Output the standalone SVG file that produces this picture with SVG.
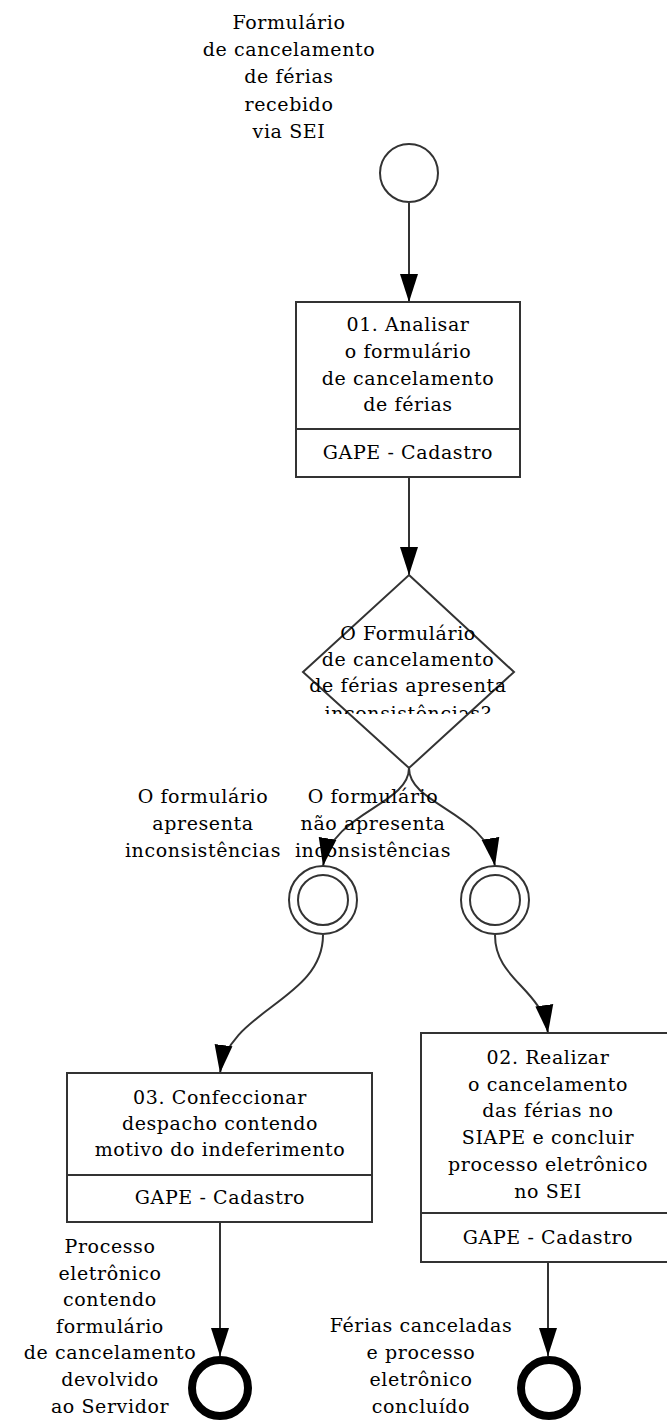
<svg xmlns="http://www.w3.org/2000/svg" width="667" height="1421" viewBox="0 0 667 1421">
<style>
text{font-family:"DejaVu Serif","Liberation Serif",serif;font-size:19px;fill:#000;text-anchor:middle;letter-spacing:0.6px}
.box{fill:#fff;stroke:#333;stroke-width:2}
.ln{fill:none;stroke:#333;stroke-width:2}
.ev{fill:#fff;stroke:#333;stroke-width:2}
.end{fill:#fff;stroke:#000;stroke-width:8}
</style>
<defs>
<marker id="arr" viewBox="0 -10 28 20" refX="28" refY="0" markerWidth="28" markerHeight="20" markerUnits="userSpaceOnUse" orient="auto">
<path d="M0,-9 L28,0 L0,9 z" fill="#000"/>
</marker>
<clipPath id="gwclip"><rect x="290" y="600" width="240" height="114"/></clipPath>
</defs>
<g id="connectors">
<path class="ln" d="M409,203 L409,302" marker-end="url(#arr)"/>
<path class="ln" d="M409,477 L409,575" marker-end="url(#arr)"/>
<path class="ln" d="M409,768 C409,805 332,812 323,866" marker-end="url(#arr)"/>
<path class="ln" d="M409,768 C409,805 486,812 495,866" marker-end="url(#arr)"/>
<path class="ln" d="M323,935 C323,1000 228,1010 220,1073" marker-end="url(#arr)"/>
<path class="ln" d="M495,935 C495,980 542,988 548,1033" marker-end="url(#arr)"/>
<path class="ln" d="M220,1222 L220,1356" marker-end="url(#arr)"/>
<path class="ln" d="M548,1262 L548,1356" marker-end="url(#arr)"/>
</g>
<g id="start">
<circle class="ev" cx="409" cy="173" r="29"/>
<text x="289" y="29">Formulário</text>
<text x="289" y="56">de cancelamento</text>
<text x="289" y="83">de férias</text>
<text x="289" y="111">recebido</text>
<text x="289" y="138">via SEI</text>
</g>
<g id="task01">
<rect class="box" x="296" y="302" width="224" height="175"/>
<line class="ln" x1="296" y1="429" x2="520" y2="429"/>
<text x="408" y="331">01. Analisar</text>
<text x="408" y="358">o formulário</text>
<text x="408" y="385">de cancelamento</text>
<text x="408" y="411">de férias</text>
<text x="408" y="459">GAPE - Cadastro</text>
</g>
<g id="gateway">
<polygon class="ev" points="409,575 514,672 409,768 303,672"/>
<g clip-path="url(#gwclip)">
<text x="408" y="640">O Formulário</text>
<text x="408" y="666">de cancelamento</text>
<text x="408" y="692">de férias apresenta</text>
<text x="408" y="720">inconsistências?</text>
</g>
</g>
<g id="label-yes">
<text x="203" y="803">O formulário</text>
<text x="203" y="830">apresenta</text>
<text x="203" y="857">inconsistências</text>
</g>
<g id="label-no">
<text x="373" y="803">O formulário</text>
<text x="373" y="830">não apresenta</text>
<text x="373" y="857">inconsistências</text>
</g>
<g id="int-left">
<circle class="ev" cx="323" cy="900" r="34"/>
<circle class="ev" cx="323" cy="900" r="25"/>
</g>
<g id="int-right">
<circle class="ev" cx="495" cy="900" r="34"/>
<circle class="ev" cx="495" cy="900" r="25"/>
</g>
<g id="task03">
<rect class="box" x="67" y="1073" width="305" height="149"/>
<line class="ln" x1="67" y1="1175" x2="372" y2="1175"/>
<text x="220" y="1104">03. Confeccionar</text>
<text x="220" y="1130">despacho contendo</text>
<text x="220" y="1156">motivo do indeferimento</text>
<text x="220" y="1204">GAPE - Cadastro</text>
</g>
<g id="task02">
<rect class="box" x="421" y="1033" width="260" height="229"/>
<line class="ln" x1="421" y1="1213" x2="681" y2="1213"/>
<text x="548" y="1064">02. Realizar</text>
<text x="548" y="1091">o cancelamento</text>
<text x="548" y="1117">das férias no</text>
<text x="548" y="1144">SIAPE e concluir</text>
<text x="548" y="1171">processo eletrônico</text>
<text x="548" y="1198">no SEI</text>
<text x="548" y="1244">GAPE - Cadastro</text>
</g>
<g id="end-left">
<circle class="end" cx="220" cy="1388" r="28"/>
<text x="110" y="1253">Processo</text>
<text x="110" y="1280">eletrônico</text>
<text x="110" y="1306">contendo</text>
<text x="110" y="1333">formulário</text>
<text x="110" y="1359">de cancelamento</text>
<text x="110" y="1386">devolvido</text>
<text x="110" y="1413">ao Servidor</text>
</g>
<g id="end-right">
<circle class="end" cx="549" cy="1388" r="28"/>
<text x="421" y="1332">Férias canceladas</text>
<text x="421" y="1359">e processo</text>
<text x="421" y="1386">eletrônico</text>
<text x="421" y="1413">concluído</text>
</g>
</svg>
